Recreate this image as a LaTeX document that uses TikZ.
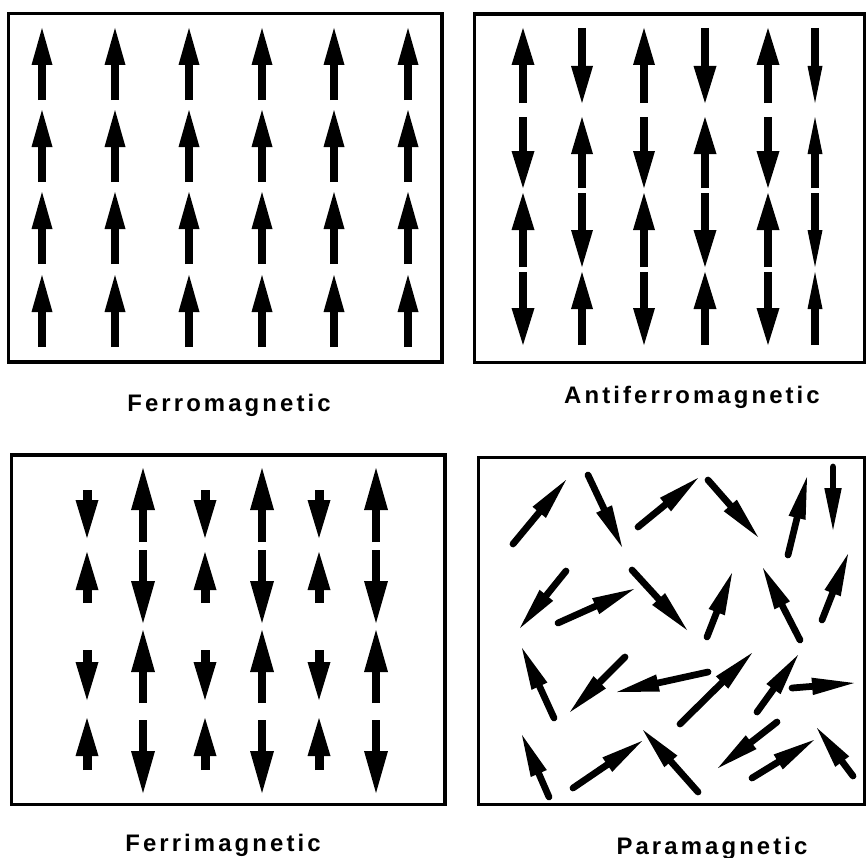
\documentclass[tikz,border=0pt]{standalone}
\usepackage{fontspec}
\newfontfamily\labelfont[LetterSpace=13]{Liberation Sans}
\usepackage{tikz}
\usetikzlibrary{arrows.meta}

\begin{document}
\begin{tikzpicture}[x=0.2mm, y=-0.2mm,
    panel/.style={line width=0.65mm},
    spinup/.style={line width=1.45mm, -{Triangle[length=7.4mm, width=4.2mm, line width=0pt]}},
    spinsmall/.style={line width=1.8mm, -{Triangle[length=7.6mm, width=4.6mm, line width=0pt]}},
    spinbig/.style={line width=1.6mm, -{Triangle[length=8.4mm, width=4.8mm, line width=0pt]}},
    spinrand/.style={line width=1.35mm, line cap=round, -{Triangle[length=8.4mm, width=3.5mm, line width=0pt]}},
    lbl/.style={font=\labelfont\bfseries\fontsize{13.6}{16}\selectfont}]
    \useasboundingbox (0,0) rectangle (866,857);
    % frames
    \draw[panel] (8.5,13.5) rectangle (442,362);
    \draw[panel] (474.5,14) rectangle (864.5,362.5);
    \draw[panel] (11.5,455) rectangle (445,804.5);
    \draw[panel] (478.5,457.5) rectangle (864.5,804.5);
    % ferromagnetic
    \foreach \x in {42,115,189,262,334,408}
        \foreach \y in {28,110,192,275}
            \draw[spinup] (\x,\y+72) -- (\x,\y);
    % antiferromagnetic
    \foreach \x/\w [count=\i] in {523/4.6,582/4.4,644/4.4,705/4.6,768/4.6,815/3.0}
        \foreach \t/\b [count=\j] in {28/103,117/188,193/267,272/345} {
            \pgfmathtruncatemacro\s{mod(\i+\j,2)}
            \ifnum\s=0
                \draw[line width=1.45mm, -{Triangle[length=7.4mm, width=\w mm, line width=0pt]}] (\x,\b) -- (\x,\t);
            \else
                \draw[line width=1.45mm, -{Triangle[length=7.4mm, width=\w mm, line width=0pt]}] (\x,\t) -- (\x,\b);
            \fi
        }
    % ferrimagnetic
    \foreach \x in {87,205,319} {
        \draw[spinsmall] (\x,490) -- (\x,538);
        \draw[spinsmall] (\x,603) -- (\x,552);
        \draw[spinsmall] (\x,650) -- (\x,700);
        \draw[spinsmall] (\x,770) -- (\x,718);
    }
    \foreach \x in {143,262,376} {
        \draw[spinbig] (\x,542) -- (\x,468);
        \draw[spinbig] (\x,550) -- (\x,623);
        \draw[spinbig] (\x,703) -- (\x,630);
        \draw[spinbig] (\x,720) -- (\x,793);
    }
    % paramagnetic
    \foreach \a/\b/\c/\d in {513/544/566/480, 588/475/622/547, 638/527/698/478,
            708/480/758/537, 788/555/807/477, 833/467/833/530,
            566/571/520/628, 558/623/634/589, 632/570/687/630,
            707/637/732/573, 800/640/763/568, 822/620/848/554,
            554/718/522/648, 625/657/570/712, 708/672/617/692,
            680/724/752/653, 757/712/798/655, 792/688/854/683,
            549/797/522/735, 573/788/642/741, 698/792/643/730,
            777/722/718/768, 752/778/814/740, 853/776/817/728}
        \draw[spinrand] (\a,\b) -- (\c,\d);
    \node[lbl] (ferro) at (229,405) {Ferromagnetic};
    \node[lbl] (antiferro) at (692,397) {Antiferromagnetic};
    \node[lbl] (ferri) at (223,845) {Ferrimagnetic};
    \node[lbl] (para) at (712,848) {Paramagnetic};
\end{tikzpicture}
\end{document}
